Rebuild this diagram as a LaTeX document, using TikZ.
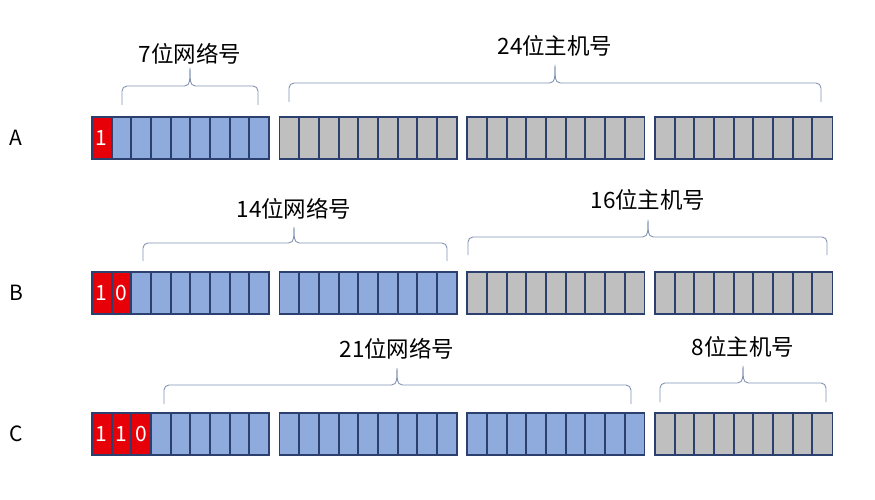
\documentclass[tikz,border=0pt]{standalone}
\usepackage{fontspec}
\setmainfont{Noto Sans CJK SC}
\usetikzlibrary{positioning}
\definecolor{bitred}{RGB}{232,0,8}
\definecolor{bitblue}{RGB}{143,170,220}
\definecolor{bitgray}{RGB}{191,191,191}
\definecolor{bitedge}{RGB}{44,64,112}
\definecolor{bracecol}{RGB}{130,148,178}
\tikzset{%
  % Specifications for style of nodes:
        bitcell/.style = {rectangle, minimum width=19.67pt, minimum height=42pt,
                          inner sep=0pt},
       classbit/.style = {bitcell, fill=bitred},
         netbit/.style = {bitcell, fill=bitblue},
        hostbit/.style = {bitcell, fill=bitgray},
        celledge/.style = {draw=bitedge, line width=1.6pt},
         bitnum/.style = {text=white, font=\fontsize{21}{21}\selectfont, inner sep=0pt},
       rowlabel/.style = {font=\fontsize{21}{21}\selectfont, inner sep=0pt},
        bracket/.style = {draw=bracecol, line width=0.9pt, rounded corners=5pt},
     bracelabel/.style = {font=\fontsize{22.5}{22.5}\selectfont, inner sep=0pt, anchor=center},
}

\begin{document}
\begin{tikzpicture}[x=1pt, y=-1pt]
  \useasboundingbox (0,0) rectangle (875,500);

  % Rows of 4 x 9 bit cells
  \foreach \r/\y/\k in {A/138/1, B/293/2, C/434/3}{
    \node (lab\r) [rowlabel] at (16,\y) {\r};
    \foreach \g in {0,...,3}
      \foreach \c in {0,...,8}{
        \ifnum\g<\k \def\cellstyle{netbit}\else\def\cellstyle{hostbit}\fi
        \ifnum\g=0 \ifnum\c<\k \def\cellstyle{classbit}\fi\fi
        \node (\r-\g-\c) [\cellstyle] at ({101.8+\g*187.7+\c*19.67},\y) {};
      }
    % cell borders on top of the fills
    \foreach \g in {0,...,3}
      \foreach \c in {0,...,8}
        \draw[celledge] (\r-\g-\c.south west) rectangle (\r-\g-\c.north east);
  }

  % Leading class bits
  \foreach \r/\c/\b in {A/0/1, B/0/1, B/1/0, C/0/1, C/1/1, C/2/0}
    \node (\r-bit\c) [bitnum] at (\r-0-\c) {\b};

  % Braces with labels above their tips
  \foreach \nm/\xa/\xb/\xt/\yb/\yf/\yt/\ly/\txt in {
      netA/122/258/190/105/86/68/54/7位网络号,
      hostA/289/821/555/102/83/65/46/24位主机号,
      netB/143/447/294/261/243/227/209/14位网络号,
      hostB/468/827/648/255/237/220/200/16位主机号,
      netC/164/631/397/404/385/368/349/21位网络号,
      hostC/660/826/743/402/383/366/347/8位主机号}{
    \coordinate (\nm-tip) at (\xt,\yt);
    \draw[bracket] (\xa,\yb) -- (\xa,\yf) -- (\xt-0.5,\yf) -- (\nm-tip)
                   (\nm-tip) -- (\xt+0.5,\yf) -- (\xb,\yf) -- (\xb,\yb);
    \node (\nm) [bracelabel] at (\xt,\ly) {\txt};
  }
\end{tikzpicture}
\end{document}
